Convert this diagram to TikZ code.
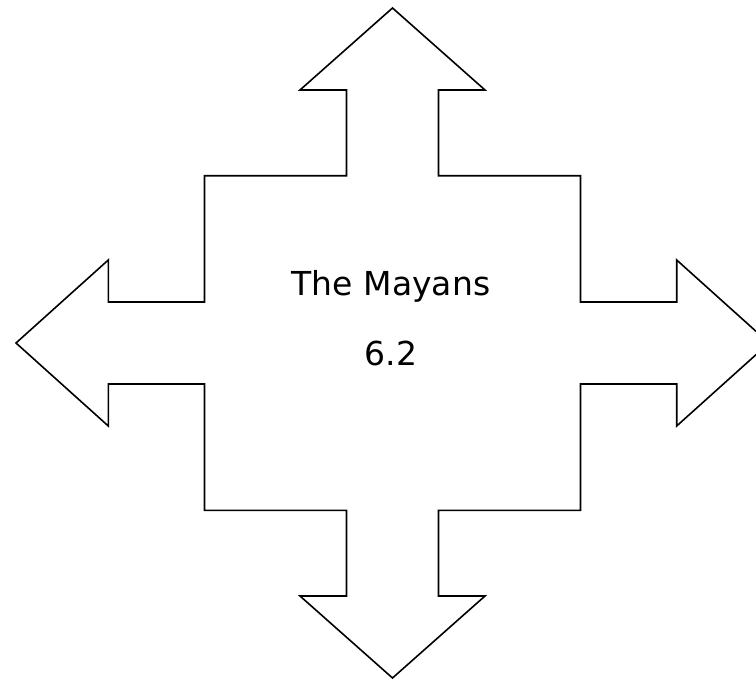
\documentclass[tikz,border=0pt]{standalone}
\usepackage{fontspec}
\setmainfont{DejaVu Sans}
\begin{document}
\begin{tikzpicture}[x=1pt,y=-1pt,
  outline/.style={draw=black,line width=1.6pt,line join=miter},
  label/.style={font=\fontsize{33}{36}\selectfont,anchor=base,inner sep=0pt}]
\useasboundingbox (0,0) rectangle (756,680);
\clip (0,0) rectangle (756,680);
% center (392.5,343)
\draw[outline]
  (392.5,8) -- (485,90) -- (438.5,90) -- (438.5,175.7) -- (580.5,175.7)
  -- (580.5,302) -- (676.7,302) -- (676.7,260) -- (769,343) -- (676.7,426)
  -- (676.7,384) -- (580.5,384) -- (580.5,510.3) -- (438.5,510.3) -- (438.5,596)
  -- (485,596) -- (392.5,678) -- (300,596) -- (346.5,596) -- (346.5,510.3)
  -- (204.5,510.3) -- (204.5,384) -- (108.3,384) -- (108.3,426) -- (16,343)
  -- (108.3,260) -- (108.3,302) -- (204.5,302) -- (204.5,175.7) -- (346.5,175.7)
  -- (346.5,90) -- (300,90) -- cycle;
\node[label] (title) at (391,295) {The Mayans};
\node[label] (num) at (391,365) {6.2};
\end{tikzpicture}
\end{document}
